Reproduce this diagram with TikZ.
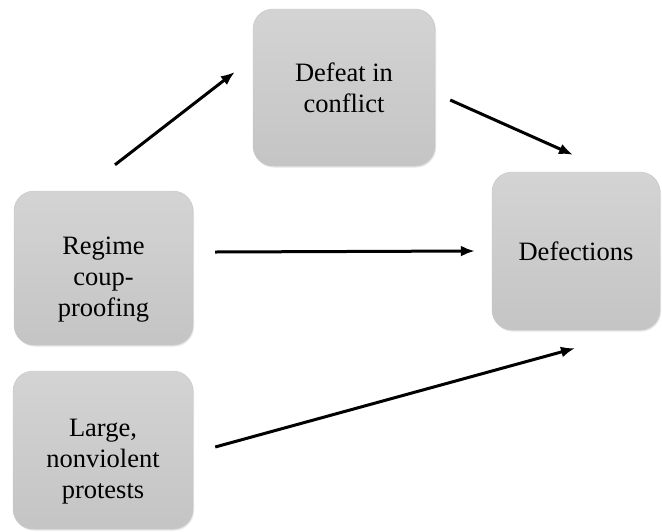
\documentclass[tikz,border=0pt]{standalone}
\usepackage{fontspec}
\setmainfont{Liberation Serif}
\usepackage{tikz}
\usetikzlibrary{positioning,shapes,shadows,arrows}
\usetikzlibrary{arrows.meta}
\tikzstyle{factor}=[rectangle, rounded corners=20pt, top color=gray!34, bottom color=gray!46, draw=gray!45, line width=0.4pt, drop shadow={opacity=0.22, shadow xshift=1pt, shadow yshift=-1.5pt}, text centered, align=center, text=black, font=\fontsize{26.5}{31}\selectfont, inner sep=0pt]
\tikzset{>={Latex[length=14pt, width=11pt]}}
\tikzstyle{link}=[->, line width=3pt, black]
\newcommand{\dropline}{\rule{0pt}{40pt}}

\begin{document}
\begin{tikzpicture}[x=1pt, y=-1pt]
    \useasboundingbox (0,0) rectangle (662,531);

        \node(regime)[factor, minimum width=179pt, minimum height=154pt] at (103.5,268) {\dropline Regime\\coup-\\proofing};
        \node(defeat)[factor, minimum width=182pt, minimum height=157pt] at (344,87.5) {Defeat in\\conflict};
        \node(defections)[factor, minimum width=168pt, minimum height=158pt] at (576,251) {Defections};
        \node(protests)[factor, minimum width=180pt, minimum height=158pt] at (103,450) {\dropline Large,\\nonviolent\\protests};

        \draw [link] ([xshift=11.5pt, yshift=26pt]regime.north) -- ([xshift=-18pt, yshift=15.5pt]defeat.west);
        \draw [link] ([xshift=15pt, yshift=-12.5pt]defeat.east) -- ([xshift=-3pt, yshift=17pt]defections.north);
        \draw [link] ([xshift=22pt, yshift=16pt]regime.east) -- ([xshift=-17pt, yshift=0pt]defections.west);
        \draw [link] ([xshift=22pt, yshift=3pt]protests.east) -- ([xshift=-1pt, yshift=-18pt]defections.south);

    \end{tikzpicture}
\end{document}
